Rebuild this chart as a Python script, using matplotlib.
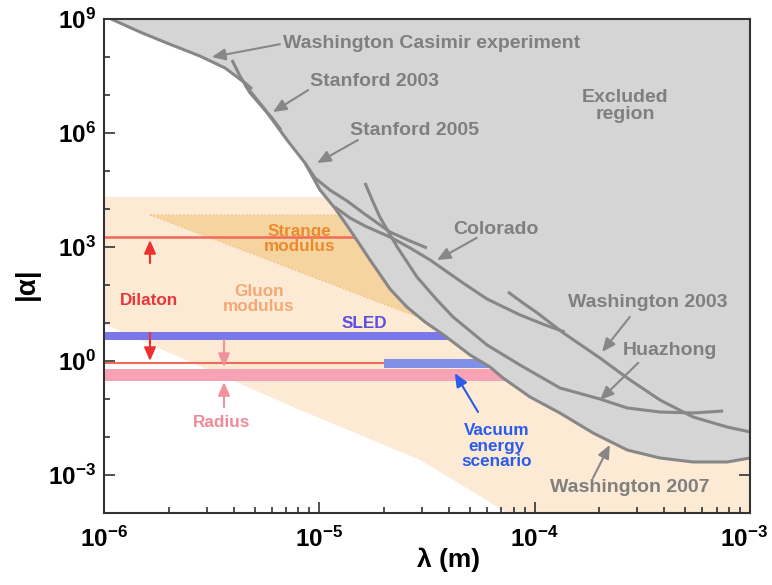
"""Contraintes sur |alpha| en fonction de lambda : région exclue et prédictions théoriques"""

import matplotlib.pyplot as plt
import numpy as np
from matplotlib.ticker import FixedLocator, LogLocator, NullFormatter, FuncFormatter
from matplotlib.transforms import ScaledTranslation

plt.rcParams['font.family'] = ['Liberation Sans', 'DejaVu Sans']
plt.rcParams['font.weight'] = 'bold'
plt.rcParams['mathtext.fontset'] = 'custom'
plt.rcParams['mathtext.rm'] = 'Liberation Sans'
plt.rcParams['mathtext.bf'] = 'Liberation Sans:bold'

# Courbes expérimentales (lambda en m, |alpha|)
casimir_lam = [1.08e-6, 1.47e-6, 1.96e-6, 2.79e-6, 3.65e-6, 4.52e-6, 4.87e-6]
casimir_alpha = [1.0e9, 4.55e8, 2.33e8, 1.06e8, 5.14e7, 2.07e7, 1.44e7]

stanford03_lam = [3.93e-6, 4.28e-6, 4.77e-6, 5.48e-6, 6.03e-6, 6.64e-6]
stanford03_alpha = [8.34e7, 3.16e7, 1.13e7, 4.55e6, 2.48e6, 1.2e6]

stanford05_lam = [4.52e-6, 5.48e-6, 7.08e-6, 8.58e-6, 9.55e-6, 1.12e-5, 1.345e-5, 1.6e-5, 2.13e-5, 2.64e-5, 3.16e-5]
stanford05_alpha = [1.83e7, 4.83e6, 6.55e5, 1.63e5, 6.55e4, 3.16e4, 1.63e4, 7.85e3, 2.48e3, 1.44e3, 942]

wash07_lam = [8.58e-6, 1.008e-5, 1.18e-5, 1.39e-5, 1.72e-5, 2.13e-5, 2.55e-5, 3.1e-5, 3.84e-5, 5.01e-5,
              6.21e-5, 7.13e-5, 9.52e-5, 1.31e-4, 1.87e-4, 2.69e-4, 3.82e-4, 5.44e-4, 7.83e-4, 1.0e-3]
wash07_alpha = [1.63e5, 3.16e4, 1.06e4, 2.8e3, 455, 78.5, 26.4, 10.6, 4.55, 1.44,
                0.695, 0.357, 0.113, 0.0428, 0.0127, 4.55e-3, 2.8e-3, 2.2e-3, 2.2e-3, 2.8e-3]

colorado_lam = [1.18e-5, 1.39e-5, 1.63e-5, 2.13e-5, 2.64e-5, 3.27e-5, 4.65e-5, 6.01e-5, 8.55e-5, 1.12e-4, 1.38e-4]
colorado_alpha = [1.13e4, 5.79e3, 3.57e3, 1.83e3, 942, 455, 113, 42.8, 16.3, 8.85, 5.79]

huazhong_lam = [1.63e-5, 1.76e-5, 1.91e-5, 2.3e-5, 2.84e-5, 3.52e-5, 4.18e-5, 6.01e-5, 8.55e-5,
                1.31e-4, 2.01e-4, 2.69e-4, 3.82e-4, 5.44e-4, 7.5e-4]
huazhong_alpha = [4.83e4, 1.73e4, 6.15e3, 1.0e3, 163, 40.3, 14.4, 2.64, 0.785,
                  0.195, 0.1, 0.058, 0.0455, 0.0428, 0.0483]

wash03_lam = [7.52e-5, 8.83e-5, 1.03e-4, 1.36e-4, 2.01e-4, 2.69e-4, 3.82e-4, 5.44e-4, 7.83e-4, 1.0e-3]
wash03_alpha = [65.5, 33.6, 18.3, 5.46, 1.2, 0.357, 0.094, 0.0336, 0.0183, 0.0136]

# Bord inférieur de la région exclue
excl_lam = [1.09e-6, 1.47e-6, 1.96e-6, 2.79e-6, 3.65e-6, 4.28e-6, 4.77e-6, 5.48e-6, 7.08e-6] + wash07_lam
excl_alpha = [1.0e9, 4.55e8, 2.33e8, 1.06e8, 5.14e7, 2.8e7, 1.13e7, 4.83e6, 6.55e5] + wash07_alpha

# Prédictions théoriques
gluon_lam = [1e-6, 1e-3, 1e-3, 7.5e-5, 2.94e-5, 8.13e-6, 1e-6]
gluon_alpha = [2.1e4, 2.1e4, 1e-4, 1e-4, 2.48e-3, 0.0514, 9.42]

strange_lam = [1.64e-6, 3.0e-5, 2.94e-5]
strange_alpha = [6.95e3, 6.95e3, 13.6]

dilaton_levels = [1.78e3, 0.9]
sled_range = [3.6, 5.8]
radius_range = [0.30, 0.62]
vacuum_range = [0.655, 1.13]
vacuum_lam = [2.0e-5, 1e-3]

gris = '#878787'
gris_texte = '#7f7f7f'

fig = plt.figure(figsize=(7.72, 5.85), dpi=100)
ax = fig.add_axes([0.1347, 0.1231, 0.8368, 0.8444])
ax.set_xscale('log')
ax.set_yscale('log')

# Zones théoriques (sous la région exclue)
ax.fill(gluon_lam, gluon_alpha, color='#fcead4', lw=0, zorder=1)
ax.fill(strange_lam, strange_alpha, facecolor='#f6d4a0', edgecolor='#efc488', ls=':', lw=1, zorder=1.2)

ax.axhline(dilaton_levels[0], color='#f06a58', lw=1.8, zorder=2)
ax.axhline(dilaton_levels[1], color='#f06a58', lw=1.5, zorder=2)
ax.axhspan(sled_range[0], sled_range[1], color='#7a78e6', lw=0, zorder=2)
ax.axhspan(radius_range[0], radius_range[1], color='#f7a3b5', lw=0, zorder=2)
ax.fill_between(vacuum_lam, vacuum_range[0], vacuum_range[1], color='#7f90e6', lw=0, zorder=2.1)

# Région exclue et courbes expérimentales
ax.fill_between(excl_lam, excl_alpha, 1e9, color='#d5d5d5', lw=0, zorder=3)
for lam, alpha in [(casimir_lam, casimir_alpha), (stanford03_lam, stanford03_alpha),
                   (stanford05_lam, stanford05_alpha), (wash07_lam, wash07_alpha),
                   (colorado_lam, colorado_alpha), (huazhong_lam, huazhong_alpha),
                   (wash03_lam, wash03_alpha)]:
    ax.plot(lam, alpha, color=gris, lw=2.2, solid_capstyle='butt', solid_joinstyle='round', zorder=4)


def fleche(queue, tete, couleur):
    ax.annotate('', xy=tete, xytext=queue, xycoords='axes fraction', textcoords='axes fraction',
                arrowprops=dict(arrowstyle='-|>,head_length=0.8,head_width=0.35', color=couleur,
                                lw=1.5, shrinkA=0, shrinkB=0), zorder=6)


def texte(x, y, s, couleur, taille=14, ha='left'):
    ax.text(x, y, s, transform=ax.transAxes, color=couleur, fontsize=taille, fontweight='bold',
            ha=ha, va='center', linespacing=1.05, zorder=6)


# Étiquettes des expériences
texte(0.277, 0.951, 'Washington Casimir experiment', gris_texte)
fleche((0.2724, 0.949), (0.167, 0.923), gris)
texte(0.319, 0.8725, 'Stanford 2003', gris_texte)
fleche((0.316, 0.856), (0.2616, 0.8117), gris)
texte(0.381, 0.775, 'Stanford 2005', gris_texte)
fleche((0.393, 0.755), (0.330, 0.7085), gris)
texte(0.8065, 0.824, 'Excluded\nregion', gris_texte, ha='center')
texte(0.540, 0.573, 'Colorado', gris_texte)
fleche((0.577, 0.557), (0.5155, 0.512), gris)
texte(0.718, 0.427, 'Washington 2003', gris_texte)
fleche((0.814, 0.397), (0.771, 0.326), gris)
texte(0.803, 0.328, 'Huazhong', gris_texte)
fleche((0.827, 0.304), (0.768, 0.229), gris)
texte(0.690, 0.0506, 'Washington 2007', gris_texte)
fleche((0.757, 0.071), (0.783, 0.138), gris)

# Étiquettes théoriques
texte(0.303, 0.5547, 'Strange\nmodulus', '#ee8a2e', 12.3, 'center')
texte(0.240, 0.433, 'Gluon\nmodulus', '#f3a875', 12.3, 'center')
texte(0.0697, 0.431, 'Dilaton', '#e8363c', 12.3, 'center')
texte(0.4025, 0.3826, 'SLED', '#5b4ee0', 12.3, 'center')
texte(0.1827, 0.184, 'Radius', '#f08a96', 12.3, 'center')
texte(0.608, 0.1356, 'Vacuum\nenergy\nscenario', '#2a5bea', 12.3, 'center')
fleche((0.579, 0.2045), (0.543, 0.283), '#2a5bea')
fleche((0.0712, 0.506), (0.0712, 0.5526), '#ee3030')
fleche((0.0712, 0.3644), (0.0712, 0.3077), '#ee3030')
fleche((0.1858, 0.350), (0.1858, 0.2955), '#f3909c')
fleche((0.1858, 0.2146), (0.1858, 0.265), '#f3909c')

# Axes
ax.set_xlim(1e-6, 1e-3)
ax.set_ylim(1e-4, 1e9)
ax.xaxis.set_major_locator(FixedLocator([1e-6, 1e-5, 1e-4, 1e-3]))
ax.xaxis.set_minor_locator(LogLocator(base=10, subs=np.arange(2, 10), numticks=20))
ax.yaxis.set_major_locator(FixedLocator([1e-3, 1e0, 1e3, 1e6, 1e9]))
ax.yaxis.set_minor_locator(FixedLocator([1e-4, 1e-2, 1e-1, 1e1, 1e2, 1e4, 1e5, 1e7, 1e8]))
puissance = FuncFormatter(lambda v, _: r'$\mathbf{10^{%d}}$' % round(np.log10(v)))
ax.xaxis.set_major_formatter(puissance)
ax.yaxis.set_major_formatter(puissance)
ax.xaxis.set_minor_formatter(NullFormatter())
ax.yaxis.set_minor_formatter(NullFormatter())
ax.tick_params(which='both', direction='in', top=True, right=True, color='#333333', width=1.2, labelsize=17.5)
ax.tick_params(which='major', length=8)
ax.tick_params(which='minor', length=4.5)
ax.tick_params(axis='x', which='major', pad=10)
ax.tick_params(axis='y', which='major', pad=6)
for s in ax.spines.values():
    s.set_linewidth(1.5)
    s.set_color('#333333')
    s.set_zorder(7)

xl = ax.set_xlabel('λ (m)', fontsize=19, fontweight='bold')
xl.set_va('center')
ax.xaxis.set_label_coords(0.534, -0.095)
yl = ax.set_ylabel('|α|', fontsize=20, fontweight='bold')
yl.set_va('center')
ax.yaxis.set_label_coords(-0.119, 0.4636)

# Décaler légèrement la dernière étiquette pour qu'elle reste dans l'image
fig.canvas.draw()
dernier = ax.xaxis.get_major_ticks()[-1].label1
dernier.set_transform(dernier.get_transform() + ScaledTranslation(-4 / 72, 0, fig.dpi_scale_trans))

fig.savefig('out.png', dpi=100)
